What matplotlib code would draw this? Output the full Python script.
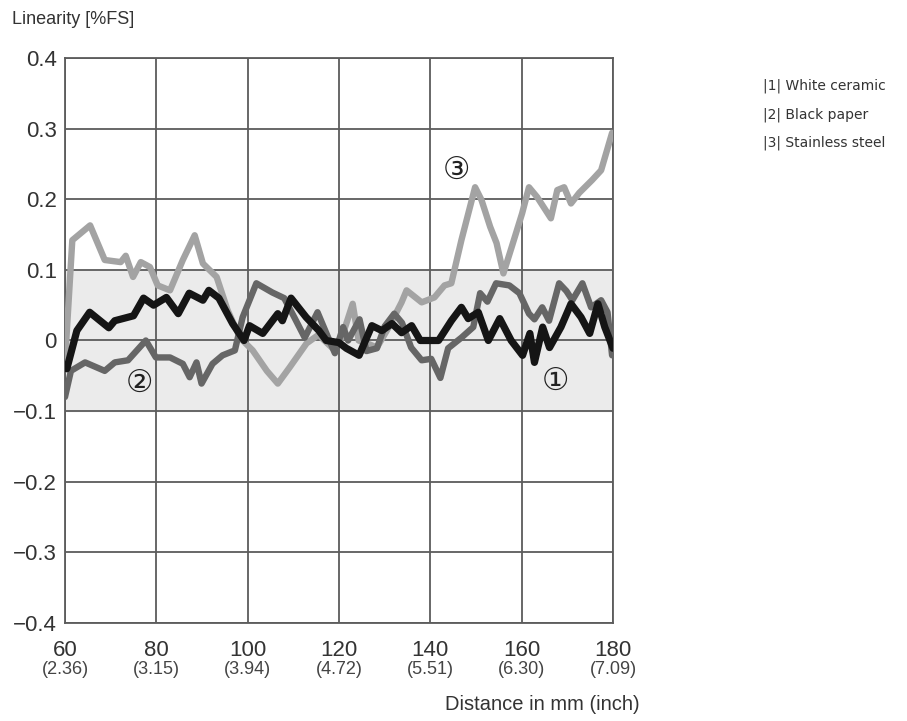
import matplotlib
matplotlib.use("Agg")
import matplotlib.pyplot as plt
import matplotlib.transforms as mtransforms

# ---- data ----
x_ticks = [60, 80, 100, 120, 140, 160, 180]
inch_labels = ["(2.36)", "(3.15)", "(3.94)", "(4.72)", "(5.51)", "(6.30)", "(7.09)"]
y_ticks = [0.4, 0.3, 0.2, 0.1, 0.0, -0.1, -0.2, -0.3, -0.4]
y_tick_labels = ["0.4", "0.3", "0.2", "0.1", "0", "\u22120.1", "\u22120.2", "\u22120.3", "\u22120.4"]
band = [-0.1, 0.1]

legend_items = ["|1| White ceramic", "|2| Black paper", "|3| Stainless steel"]
markers = ["\u2460", "\u2461", "\u2462"]
marker_x = [167.3, 76.4, 145.8]
marker_y = [-0.058, -0.061, 0.241]

s1_x = [60.4, 62.6, 65.4, 69.6, 70.9, 75.0, 77.2, 79.4, 82.2, 84.8, 87.2, 90.2, 91.5, 93.7,
        96.7, 99.2, 100.4, 103.3, 106.6, 107.6, 109.5, 112.8, 115.6, 117.2, 120.0, 121.6,
        124.4, 127.2, 129.4, 131.6, 133.7, 135.9, 137.8, 141.8, 144.6, 146.8, 148.3, 150.5,
        152.7, 155.2, 157.7, 160.2, 161.8, 162.8, 164.6, 166.1, 168.6, 170.8, 173.0, 174.9,
        176.7, 178.2, 180.0]
s1_y = [-0.04, 0.014, 0.04, 0.018, 0.028, 0.035, 0.06, 0.05, 0.061, 0.038, 0.067, 0.057, 0.071, 0.06,
        0.024, 0.0, 0.021, 0.01, 0.038, 0.028, 0.06, 0.033, 0.014, 0.0, -0.003, -0.011,
        -0.021, 0.021, 0.014, 0.024, 0.011, 0.021, 0.0, 0.0, 0.028, 0.047, 0.031, 0.04,
        0.0, 0.031, 0.0, -0.021, 0.01, -0.031, 0.019, -0.01, 0.019, 0.052, 0.033, 0.01,
        0.052, 0.019, -0.011]

s2_x = [60.0, 61.3, 64.4, 68.7, 70.9, 73.8, 77.7, 79.9, 83.0, 85.8, 87.3, 88.8, 89.9, 92.3,
        94.5, 97.2, 98.9, 101.9, 105.4, 108.0, 110.2, 112.5, 115.3, 117.9, 119.1, 120.9,
        122.0, 124.5, 126.0, 128.3, 130.0, 132.1, 133.8, 135.8, 138.1, 140.2, 142.2, 143.9,
        146.8, 149.4, 150.9, 152.5, 154.4, 157.3, 159.5, 161.6, 162.8, 164.5, 166.0, 168.2,
        169.8, 171.1, 173.3, 175.2, 177.4, 178.8, 179.8]
s2_y = [-0.08, -0.043, -0.031, -0.043, -0.031, -0.028, 0.0, -0.024, -0.024, -0.033, -0.052, -0.031, -0.061, -0.033,
        -0.021, -0.014, 0.033, 0.081, 0.068, 0.06, 0.033, 0.004, 0.04, 0.0, -0.018, 0.019,
        0.0, 0.03, -0.015, -0.011, 0.02, 0.038, 0.025, -0.01, -0.028, -0.026, -0.053, -0.011,
        0.004, 0.019, 0.067, 0.055, 0.081, 0.078, 0.067, 0.038, 0.03, 0.047, 0.028, 0.081,
        0.07, 0.057, 0.081, 0.047, 0.057, 0.04, -0.021]

s3_x = [60.0, 61.6, 65.5, 68.7, 72.2, 73.3, 74.9, 76.6, 78.6, 80.3, 83.0, 85.8, 88.4, 90.2,
        93.2, 95.6, 98.3, 101.1, 104.2, 106.6, 109.2, 112.9, 115.5, 118.6, 120.6, 123.0,
        124.3, 126.5, 128.3, 131.0, 133.7, 134.8, 138.1, 140.9, 143.1, 144.6, 146.8, 149.8,
        151.2, 153.1, 154.5, 156.0, 157.8, 160.1, 161.6, 163.4, 166.4, 167.8, 169.3, 170.8,
        172.6, 175.4, 177.4, 179.8]
s3_y = [-0.03, 0.142, 0.163, 0.114, 0.111, 0.12, 0.09, 0.111, 0.104, 0.078, 0.071, 0.114, 0.149, 0.109,
        0.09, 0.043, 0.004, -0.014, -0.043, -0.061, -0.038, -0.004, 0.008, -0.011, 0.004, 0.052,
        0.0, -0.005, -0.01, 0.02, 0.054, 0.071, 0.054, 0.061, 0.078, 0.081, 0.142, 0.217,
        0.199, 0.161, 0.138, 0.095, 0.132, 0.18, 0.217, 0.203, 0.173, 0.213, 0.217, 0.194,
        0.209, 0.227, 0.241, 0.294]

# ---- figure ----
plt.rcParams['font.family'] = ['Liberation Sans', 'DejaVu Sans']
fig = plt.figure(figsize=(9.07, 7.21), dpi=100)
ax = fig.add_axes([65 / 907, 1 - 623 / 721, (613 - 65) / 907, (623 - 58) / 721])

ax.set_xlim(60, 180)
ax.set_ylim(-0.4, 0.4)
ax.axhspan(band[0], band[1], color="#ebebeb", zorder=0)

grid_c = "#5c5c5c"
for xv in x_ticks:
    ax.axvline(xv, color=grid_c, lw=1.3, zorder=1)
for yv in y_ticks:
    ax.axhline(yv, color=grid_c, lw=1.3, zorder=1)
for sp in ax.spines.values():
    sp.set_color(grid_c)
    sp.set_linewidth(1.3)

ax.plot(s3_x, s3_y, color="#a3a3a3", lw=4.6, solid_joinstyle="round", solid_capstyle="round", zorder=3)
ax.plot(s2_x, s2_y, color="#666666", lw=4.6, solid_joinstyle="round", solid_capstyle="round", zorder=4)
ax.plot(s1_x, s1_y, color="#151515", lw=5.2, solid_joinstyle="round", solid_capstyle="round", zorder=5)

ax.set_xticks(x_ticks)
ax.set_xticklabels([str(v) for v in x_ticks])
ax.set_yticks(y_ticks)
ax.set_yticklabels(y_tick_labels)
ax.tick_params(axis="both", length=0, labelsize=16, colors="#333333")
ax.tick_params(axis="x", pad=12)
ax.tick_params(axis="y", pad=6)

trans = mtransforms.blended_transform_factory(ax.transData, ax.transAxes)
for xv, lab in zip(x_ticks, inch_labels):
    ax.text(xv, -0.083, lab, transform=trans, ha="center", va="center",
            fontsize=13, color="#444444")

for mx, my, m in zip(marker_x, marker_y, markers):
    ax.text(mx, my, m, ha="center", va="center", fontsize=22, color="#222222",
            family=["DejaVu Sans"], zorder=6)

fig.text(12 / 907, 1 - 20 / 721, "Linearity [%FS]", ha="left", va="center",
         fontsize=13, color="#333333")
fig.text(640 / 907, 1 - 705 / 721, "Distance in mm (inch)", ha="right", va="center",
         fontsize=14.5, color="#333333")

for i, t in enumerate(legend_items):
    fig.text(763 / 907, 1 - (86 + 28.5 * i) / 721, t, ha="left", va="center",
             fontsize=10, color="#333333", family=["DejaVu Sans"])

fig.savefig("out.png", dpi=100)
